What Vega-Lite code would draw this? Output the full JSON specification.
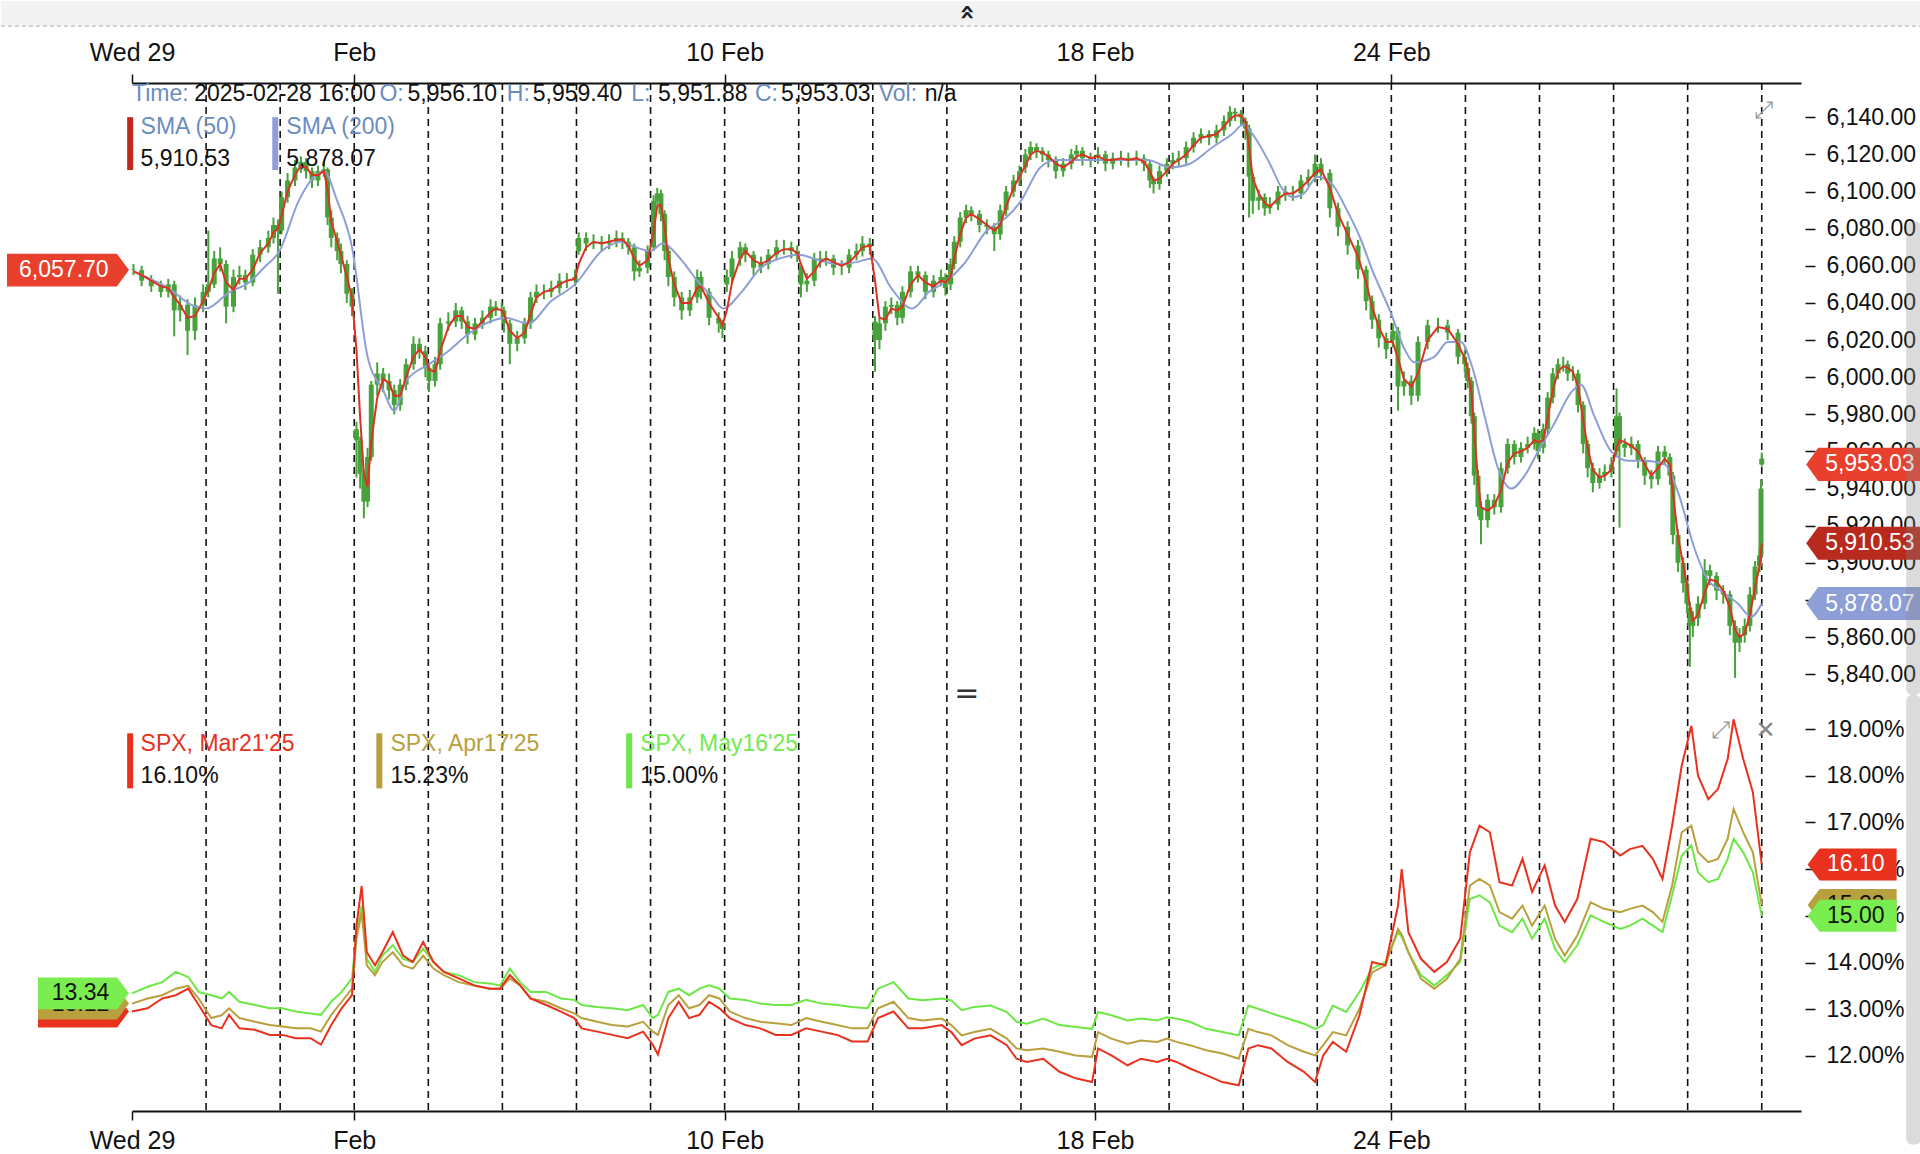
{
"$schema": "https://vega.github.io/schema/vega-lite/v6.json",
"padding": 0,
"background": "white",
"spacing": 0,
"bounds": "flush",
"resolve": {"scale": {"x": "independent", "y": "independent"}, "axis": {"x": "independent", "y": "independent"}},
"config": {"view": {"stroke": null}, "font": "Liberation Sans", "text": {"font": "Liberation Sans"}},
"datasets": {
"days": [{"d":1},{"d":2},{"d":3},{"d":4},{"d":5},{"d":6},{"d":7},{"d":8},{"d":9},{"d":10},{"d":11},{"d":12},{"d":13},{"d":14},{"d":15},{"d":16},{"d":17},{"d":18},{"d":19},{"d":20},{"d":21},{"d":22}],
"px": [
{"t":0.02,"o":6058,"h":6061,"l":6055,"c":6057.7,"s50":6057},
{"t":0.13,"o":6057.7,"h":6060,"l":6049,"c":6052,"s50":6055},
{"t":0.26,"o":6052,"h":6055,"l":6046,"c":6049,"s50":6052},
{"t":0.39,"o":6049,"h":6052,"l":6043,"c":6046,"s50":6049},
{"t":0.49,"o":6046,"h":6053,"l":6043,"c":6050,"s50":6048},
{"t":0.57,"o":6050,"h":6052,"l":6022,"c":6036,"s50":6043},
{"t":0.65,"o":6036,"h":6044,"l":6030,"c":6039,"s50":6039},
{"t":0.75,"o":6039,"h":6042,"l":6012,"c":6025,"s50":6032},
{"t":0.85,"o":6025,"h":6043,"l":6020,"c":6039,"s50":6033},
{"t":0.96,"o":6039,"h":6050,"l":6035,"c":6046,"s50":6041},
{"t":1.03,"o":6046,"h":6079,"l":6043,"c":6050,"s50":6047},
{"t":1.11,"o":6050,"h":6068,"l":6048,"c":6064,"s50":6056},
{"t":1.19,"o":6064,"h":6070,"l":6057,"c":6061,"s50":6061},
{"t":1.27,"o":6061,"h":6063,"l":6029,"c":6038,"s50":6051},
{"t":1.37,"o":6038,"h":6058,"l":6035,"c":6054,"s50":6047},
{"t":1.45,"o":6054,"h":6060,"l":6050,"c":6055,"s50":6053},
{"t":1.53,"o":6055,"h":6058,"l":6047,"c":6051,"s50":6053},
{"t":1.63,"o":6051,"h":6069,"l":6049,"c":6066,"s50":6058},
{"t":1.73,"o":6066,"h":6074,"l":6062,"c":6070,"s50":6067},
{"t":1.84,"o":6070,"h":6079,"l":6067,"c":6075,"s50":6072},
{"t":1.91,"o":6075,"h":6086,"l":6072,"c":6082,"s50":6078},
{"t":1.97,"o":6082,"h":6085,"l":6045,"c":6079,"s50":6080},
{"t":2.02,"o":6079,"h":6100,"l":6077,"c":6097,"s50":6087},
{"t":2.10,"o":6097,"h":6110,"l":6094,"c":6106,"s50":6100},
{"t":2.20,"o":6106,"h":6117,"l":6103,"c":6113,"s50":6109},
{"t":2.28,"o":6113,"h":6119,"l":6110,"c":6116,"s50":6114},
{"t":2.35,"o":6116,"h":6118,"l":6107,"c":6111,"s50":6113},
{"t":2.43,"o":6111,"h":6113,"l":6102,"c":6106,"s50":6109},
{"t":2.51,"o":6106,"h":6114,"l":6103,"c":6111,"s50":6109},
{"t":2.59,"o":6111,"h":6116,"l":6108,"c":6112,"s50":6111},
{"t":2.64,"o":6112,"h":6113,"l":6082,"c":6086,"s50":6101},
{"t":2.69,"o":6086,"h":6090,"l":6070,"c":6075,"s50":6084},
{"t":2.77,"o":6075,"h":6078,"l":6063,"c":6068,"s50":6073},
{"t":2.82,"o":6068,"h":6072,"l":6056,"c":6061,"s50":6066},
{"t":2.90,"o":6061,"h":6063,"l":6040,"c":6045,"s50":6054},
{"t":2.97,"o":6045,"h":6048,"l":6033,"c":6038,"s50":6043},
{"t":3.03,"o":5972,"h":5976,"l":5946,"c":5966,"s50":6015},
{"t":3.08,"o":5966,"h":5968,"l":5940,"c":5948,"s50":5978},
{"t":3.13,"o":5948,"h":5950,"l":5924,"c":5933,"s50":5948},
{"t":3.18,"o":5933,"h":5962,"l":5930,"c":5957,"s50":5941},
{"t":3.23,"o":5957,"h":5998,"l":5955,"c":5996,"s50":5965},
{"t":3.31,"o":5996,"h":6008,"l":5990,"c":6002,"s50":5989},
{"t":3.39,"o":6002,"h":6005,"l":5992,"c":5998,"s50":5999},
{"t":3.47,"o":5998,"h":6002,"l":5988,"c":5993,"s50":5997},
{"t":3.54,"o":5993,"h":5996,"l":5980,"c":5985,"s50":5990},
{"t":3.62,"o":5985,"h":5999,"l":5982,"c":5996,"s50":5990},
{"t":3.70,"o":5996,"h":6010,"l":5993,"c":6007,"s50":6000},
{"t":3.80,"o":6007,"h":6022,"l":6004,"c":6018,"s50":6011},
{"t":3.88,"o":6018,"h":6021,"l":6010,"c":6014,"s50":6015},
{"t":3.96,"o":6014,"h":6017,"l":6000,"c":6005,"s50":6011},
{"t":4.01,"o":6005,"h":6008,"l":5992,"c":5998,"s50":6004},
{"t":4.09,"o":5998,"h":6011,"l":5995,"c":6007,"s50":6003},
{"t":4.16,"o":6007,"h":6032,"l":6004,"c":6029,"s50":6014},
{"t":4.27,"o":6029,"h":6035,"l":6025,"c":6030,"s50":6027},
{"t":4.37,"o":6030,"h":6040,"l":6027,"c":6036,"s50":6033},
{"t":4.45,"o":6036,"h":6038,"l":6026,"c":6030,"s50":6033},
{"t":4.53,"o":6030,"h":6033,"l":6018,"c":6023,"s50":6027},
{"t":4.63,"o":6023,"h":6032,"l":6020,"c":6029,"s50":6026},
{"t":4.73,"o":6029,"h":6036,"l":6026,"c":6032,"s50":6030},
{"t":4.84,"o":6032,"h":6042,"l":6029,"c":6038,"s50":6035},
{"t":4.91,"o":6038,"h":6041,"l":6033,"c":6036,"s50":6037},
{"t":4.99,"o":6036,"h":6040,"l":6032,"c":6036,"s50":6036},
{"t":5.02,"o":6036,"h":6038,"l":6024,"c":6029,"s50":6034},
{"t":5.10,"o":6029,"h":6031,"l":6007,"c":6018,"s50":6025},
{"t":5.20,"o":6018,"h":6025,"l":6014,"c":6021,"s50":6021},
{"t":5.30,"o":6021,"h":6032,"l":6018,"c":6029,"s50":6024},
{"t":5.38,"o":6029,"h":6046,"l":6026,"c":6043,"s50":6034},
{"t":5.46,"o":6043,"h":6050,"l":6040,"c":6046,"s50":6043},
{"t":5.56,"o":6046,"h":6050,"l":6042,"c":6046,"s50":6046},
{"t":5.66,"o":6046,"h":6052,"l":6043,"c":6048,"s50":6047},
{"t":5.77,"o":6048,"h":6056,"l":6045,"c":6052,"s50":6050},
{"t":5.87,"o":6052,"h":6056,"l":6048,"c":6052,"s50":6052},
{"t":5.98,"o":6052,"h":6058,"l":6049,"c":6054,"s50":6053},
{"t":6.03,"o":6068,"h":6078,"l":6066,"c":6075,"s50":6061},
{"t":6.13,"o":6075,"h":6078,"l":6068,"c":6072,"s50":6070},
{"t":6.23,"o":6072,"h":6077,"l":6069,"c":6073,"s50":6073},
{"t":6.34,"o":6073,"h":6076,"l":6068,"c":6072,"s50":6072},
{"t":6.44,"o":6072,"h":6077,"l":6069,"c":6073,"s50":6073},
{"t":6.54,"o":6073,"h":6079,"l":6070,"c":6075,"s50":6074},
{"t":6.62,"o":6075,"h":6078,"l":6069,"c":6073,"s50":6074},
{"t":6.70,"o":6073,"h":6075,"l":6066,"c":6070,"s50":6071},
{"t":6.78,"o":6070,"h":6072,"l":6052,"c":6057,"s50":6064},
{"t":6.85,"o":6057,"h":6063,"l":6054,"c":6059,"s50":6060},
{"t":6.96,"o":6059,"h":6071,"l":6056,"c":6068,"s50":6063},
{"t":7.04,"o":6070,"h":6098,"l":6068,"c":6095,"s50":6078},
{"t":7.09,"o":6095,"h":6102,"l":6092,"c":6099,"s50":6092},
{"t":7.14,"o":6099,"h":6101,"l":6084,"c":6088,"s50":6093},
{"t":7.19,"o":6088,"h":6090,"l":6063,"c":6068,"s50":6081},
{"t":7.24,"o":6068,"h":6070,"l":6049,"c":6054,"s50":6064},
{"t":7.32,"o":6054,"h":6057,"l":6038,"c":6043,"s50":6050},
{"t":7.42,"o":6043,"h":6046,"l":6031,"c":6036,"s50":6040},
{"t":7.53,"o":6036,"h":6047,"l":6033,"c":6043,"s50":6040},
{"t":7.63,"o":6043,"h":6058,"l":6040,"c":6054,"s50":6048},
{"t":7.68,"o":6054,"h":6057,"l":6042,"c":6046,"s50":6049},
{"t":7.79,"o":6046,"h":6048,"l":6028,"c":6032,"s50":6040},
{"t":7.92,"o":6032,"h":6035,"l":6024,"c":6029,"s50":6032},
{"t":7.97,"o":6029,"h":6031,"l":6021,"c":6026,"s50":6028},
{"t":8.03,"o":6050,"h":6058,"l":6046,"c":6054,"s50":6036},
{"t":8.10,"o":6054,"h":6068,"l":6051,"c":6064,"s50":6051},
{"t":8.21,"o":6064,"h":6073,"l":6060,"c":6070,"s50":6064},
{"t":8.28,"o":6070,"h":6072,"l":6062,"c":6066,"s50":6068},
{"t":8.39,"o":6066,"h":6068,"l":6055,"c":6059,"s50":6063},
{"t":8.49,"o":6059,"h":6065,"l":6056,"c":6061,"s50":6061},
{"t":8.59,"o":6061,"h":6069,"l":6058,"c":6066,"s50":6063},
{"t":8.70,"o":6066,"h":6074,"l":6063,"c":6070,"s50":6067},
{"t":8.80,"o":6070,"h":6074,"l":6066,"c":6070,"s50":6069},
{"t":8.90,"o":6070,"h":6073,"l":6064,"c":6068,"s50":6069},
{"t":8.98,"o":6068,"h":6071,"l":6062,"c":6066,"s50":6067},
{"t":9.03,"o":6058,"h":6060,"l":6043,"c":6050,"s50":6061},
{"t":9.11,"o":6050,"h":6056,"l":6046,"c":6052,"s50":6053},
{"t":9.21,"o":6052,"h":6067,"l":6049,"c":6064,"s50":6057},
{"t":9.29,"o":6064,"h":6068,"l":6059,"c":6063,"s50":6062},
{"t":9.37,"o":6063,"h":6068,"l":6060,"c":6064,"s50":6064},
{"t":9.47,"o":6064,"h":6066,"l":6055,"c":6059,"s50":6062},
{"t":9.58,"o":6059,"h":6063,"l":6055,"c":6059,"s50":6060},
{"t":9.68,"o":6059,"h":6069,"l":6056,"c":6066,"s50":6062},
{"t":9.78,"o":6066,"h":6072,"l":6063,"c":6068,"s50":6066},
{"t":9.86,"o":6068,"h":6076,"l":6065,"c":6072,"s50":6070},
{"t":9.96,"o":6072,"h":6075,"l":6066,"c":6070,"s50":6071},
{"t":10.03,"o":6030,"h":6033,"l":6003,"c":6020,"s50":6052},
{"t":10.09,"o":6020,"h":6032,"l":6015,"c":6029,"s50":6032},
{"t":10.17,"o":6029,"h":6041,"l":6025,"c":6038,"s50":6031},
{"t":10.25,"o":6038,"h":6043,"l":6034,"c":6039,"s50":6037},
{"t":10.33,"o":6039,"h":6041,"l":6028,"c":6032,"s50":6036},
{"t":10.40,"o":6032,"h":6049,"l":6029,"c":6046,"s50":6038},
{"t":10.51,"o":6046,"h":6060,"l":6043,"c":6057,"s50":6050},
{"t":10.61,"o":6057,"h":6060,"l":6051,"c":6055,"s50":6055},
{"t":10.71,"o":6055,"h":6057,"l":6042,"c":6046,"s50":6051},
{"t":10.82,"o":6046,"h":6055,"l":6043,"c":6052,"s50":6049},
{"t":10.92,"o":6052,"h":6058,"l":6049,"c":6054,"s50":6052},
{"t":10.98,"o":6054,"h":6056,"l":6044,"c":6048,"s50":6051},
{"t":11.05,"o":6050,"h":6064,"l":6047,"c":6061,"s50":6054},
{"t":11.10,"o":6061,"h":6076,"l":6058,"c":6073,"s50":6064},
{"t":11.18,"o":6073,"h":6089,"l":6070,"c":6086,"s50":6077},
{"t":11.26,"o":6086,"h":6093,"l":6083,"c":6090,"s50":6086},
{"t":11.33,"o":6090,"h":6092,"l":6084,"c":6088,"s50":6088},
{"t":11.44,"o":6088,"h":6090,"l":6078,"c":6082,"s50":6085},
{"t":11.54,"o":6082,"h":6085,"l":6077,"c":6081,"s50":6082},
{"t":11.64,"o":6081,"h":6083,"l":6068,"c":6077,"s50":6079},
{"t":11.72,"o":6077,"h":6093,"l":6074,"c":6090,"s50":6082},
{"t":11.80,"o":6090,"h":6103,"l":6087,"c":6100,"s50":6092},
{"t":11.90,"o":6100,"h":6109,"l":6097,"c":6106,"s50":6102},
{"t":11.98,"o":6106,"h":6114,"l":6103,"c":6111,"s50":6108},
{"t":12.06,"o":6113,"h":6123,"l":6110,"c":6120,"s50":6114},
{"t":12.13,"o":6120,"h":6127,"l":6117,"c":6124,"s50":6120},
{"t":12.21,"o":6124,"h":6126,"l":6118,"c":6122,"s50":6122},
{"t":12.29,"o":6122,"h":6124,"l":6116,"c":6120,"s50":6121},
{"t":12.37,"o":6120,"h":6122,"l":6113,"c":6117,"s50":6119},
{"t":12.47,"o":6117,"h":6119,"l":6107,"c":6111,"s50":6115},
{"t":12.57,"o":6111,"h":6118,"l":6108,"c":6115,"s50":6113},
{"t":12.68,"o":6115,"h":6123,"l":6112,"c":6120,"s50":6116},
{"t":12.75,"o":6120,"h":6125,"l":6117,"c":6122,"s50":6119},
{"t":12.83,"o":6122,"h":6124,"l":6114,"c":6118,"s50":6120},
{"t":12.94,"o":6118,"h":6121,"l":6113,"c":6117,"s50":6118},
{"t":13.04,"o":6119,"h":6124,"l":6115,"c":6120,"s50":6119},
{"t":13.14,"o":6120,"h":6122,"l":6111,"c":6115,"s50":6117},
{"t":13.24,"o":6115,"h":6121,"l":6112,"c":6118,"s50":6117},
{"t":13.35,"o":6118,"h":6122,"l":6114,"c":6118,"s50":6118},
{"t":13.45,"o":6118,"h":6121,"l":6113,"c":6117,"s50":6117},
{"t":13.56,"o":6117,"h":6122,"l":6114,"c":6118,"s50":6118},
{"t":13.66,"o":6118,"h":6120,"l":6111,"c":6115,"s50":6116},
{"t":13.74,"o":6115,"h":6117,"l":6102,"c":6106,"s50":6111},
{"t":13.79,"o":6106,"h":6108,"l":6099,"c":6104,"s50":6106},
{"t":13.87,"o":6104,"h":6114,"l":6101,"c":6111,"s50":6107},
{"t":13.97,"o":6111,"h":6118,"l":6108,"c":6115,"s50":6111},
{"t":14.05,"o":6115,"h":6121,"l":6112,"c":6117,"s50":6115},
{"t":14.13,"o":6117,"h":6122,"l":6114,"c":6118,"s50":6117},
{"t":14.23,"o":6118,"h":6127,"l":6115,"c":6124,"s50":6120},
{"t":14.33,"o":6124,"h":6132,"l":6121,"c":6129,"s50":6125},
{"t":14.43,"o":6129,"h":6134,"l":6126,"c":6131,"s50":6129},
{"t":14.54,"o":6131,"h":6133,"l":6125,"c":6129,"s50":6130},
{"t":14.64,"o":6129,"h":6136,"l":6126,"c":6133,"s50":6131},
{"t":14.74,"o":6133,"h":6141,"l":6130,"c":6138,"s50":6135},
{"t":14.82,"o":6138,"h":6146,"l":6135,"c":6143,"s50":6139},
{"t":14.89,"o":6143,"h":6145,"l":6138,"c":6142,"s50":6141},
{"t":14.97,"o":6142,"h":6144,"l":6136,"c":6140,"s50":6141},
{"t":15.03,"o":6138,"h":6140,"l":6128,"c":6134,"s50":6138},
{"t":15.08,"o":6134,"h":6136,"l":6086,"c":6108,"s50":6124},
{"t":15.13,"o":6108,"h":6110,"l":6088,"c":6095,"s50":6107},
{"t":15.21,"o":6095,"h":6101,"l":6090,"c":6097,"s50":6099},
{"t":15.29,"o":6097,"h":6099,"l":6087,"c":6091,"s50":6094},
{"t":15.36,"o":6091,"h":6097,"l":6088,"c":6093,"s50":6092},
{"t":15.47,"o":6093,"h":6103,"l":6090,"c":6100,"s50":6096},
{"t":15.57,"o":6100,"h":6103,"l":6095,"c":6099,"s50":6099},
{"t":15.67,"o":6099,"h":6103,"l":6095,"c":6099,"s50":6099},
{"t":15.78,"o":6099,"h":6109,"l":6096,"c":6106,"s50":6102},
{"t":15.88,"o":6106,"h":6112,"l":6103,"c":6108,"s50":6106},
{"t":15.97,"o":6108,"h":6120,"l":6105,"c":6115,"s50":6110},
{"t":16.05,"o":6115,"h":6118,"l":6106,"c":6110,"s50":6112},
{"t":16.17,"o":6110,"h":6112,"l":6086,"c":6091,"s50":6102},
{"t":16.28,"o":6091,"h":6094,"l":6076,"c":6081,"s50":6088},
{"t":16.41,"o":6081,"h":6084,"l":6066,"c":6071,"s50":6077},
{"t":16.55,"o":6071,"h":6074,"l":6053,"c":6058,"s50":6065},
{"t":16.66,"o":6058,"h":6060,"l":6036,"c":6041,"s50":6051},
{"t":16.74,"o":6041,"h":6044,"l":6026,"c":6031,"s50":6038},
{"t":16.83,"o":6031,"h":6034,"l":6016,"c":6021,"s50":6027},
{"t":16.93,"o":6021,"h":6024,"l":6010,"c":6015,"s50":6019},
{"t":17.02,"o":6020,"h":6029,"l":6016,"c":6025,"s50":6019},
{"t":17.09,"o":6025,"h":6027,"l":5982,"c":5995,"s50":6010},
{"t":17.17,"o":5995,"h":6003,"l":5990,"c":5998,"s50":5999},
{"t":17.27,"o":5998,"h":6001,"l":5985,"c":5990,"s50":5995},
{"t":17.36,"o":5990,"h":6022,"l":5987,"c":6019,"s50":6002},
{"t":17.49,"o":6019,"h":6031,"l":6015,"c":6028,"s50":6020},
{"t":17.63,"o":6028,"h":6032,"l":6024,"c":6028,"s50":6027},
{"t":17.76,"o":6028,"h":6031,"l":6020,"c":6024,"s50":6026},
{"t":17.90,"o":6024,"h":6026,"l":6007,"c":6011,"s50":6018},
{"t":17.99,"o":6011,"h":6014,"l":6003,"c":6007,"s50":6010},
{"t":18.03,"o":6005,"h":6008,"l":5994,"c":5998,"s50":6004},
{"t":18.08,"o":5998,"h":6000,"l":5975,"c":5979,"s50":5992},
{"t":18.12,"o":5979,"h":5981,"l":5942,"c":5947,"s50":5970},
{"t":18.17,"o":5947,"h":5950,"l":5925,"c":5930,"s50":5945},
{"t":18.21,"o":5930,"h":5933,"l":5910,"c":5923,"s50":5930},
{"t":18.30,"o":5923,"h":5937,"l":5919,"c":5934,"s50":5928},
{"t":18.39,"o":5934,"h":5937,"l":5926,"c":5930,"s50":5931},
{"t":18.48,"o":5930,"h":5954,"l":5927,"c":5951,"s50":5939},
{"t":18.57,"o":5951,"h":5967,"l":5948,"c":5964,"s50":5954},
{"t":18.66,"o":5964,"h":5966,"l":5953,"c":5957,"s50":5959},
{"t":18.75,"o":5957,"h":5965,"l":5954,"c":5962,"s50":5960},
{"t":18.84,"o":5962,"h":5968,"l":5959,"c":5964,"s50":5962},
{"t":18.93,"o":5964,"h":5973,"l":5961,"c":5970,"s50":5966},
{"t":18.98,"o":5970,"h":5972,"l":5956,"c":5960,"s50":5965},
{"t":19.05,"o":5962,"h":5975,"l":5959,"c":5972,"s50":5966},
{"t":19.11,"o":5972,"h":5992,"l":5969,"c":5989,"s50":5978},
{"t":19.18,"o":5989,"h":6005,"l":5986,"c":6002,"s50":5993},
{"t":19.25,"o":6002,"h":6010,"l":5999,"c":6007,"s50":6003},
{"t":19.32,"o":6007,"h":6011,"l":6003,"c":6007,"s50":6006},
{"t":19.38,"o":6007,"h":6009,"l":5998,"c":6002,"s50":6005},
{"t":19.45,"o":6002,"h":6006,"l":5998,"c":6002,"s50":6003},
{"t":19.52,"o":6002,"h":6004,"l":5981,"c":5985,"s50":5995},
{"t":19.59,"o":5985,"h":5987,"l":5959,"c":5964,"s50":5977},
{"t":19.65,"o":5964,"h":5966,"l":5946,"c":5951,"s50":5962},
{"t":19.72,"o":5951,"h":5954,"l":5938,"c":5943,"s50":5950},
{"t":19.81,"o":5943,"h":5951,"l":5940,"c":5947,"s50":5946},
{"t":19.88,"o":5947,"h":5953,"l":5944,"c":5949,"s50":5947},
{"t":19.97,"o":5949,"h":5957,"l":5946,"c":5953,"s50":5950},
{"t":20.04,"o":5960,"h":5994,"l":5957,"c":5979,"s50":5962},
{"t":20.08,"o":5979,"h":5981,"l":5919,"c":5964,"s50":5966},
{"t":20.15,"o":5964,"h":5967,"l":5957,"c":5962,"s50":5965},
{"t":20.24,"o":5962,"h":5968,"l":5958,"c":5964,"s50":5963},
{"t":20.33,"o":5964,"h":5966,"l":5951,"c":5955,"s50":5960},
{"t":20.42,"o":5955,"h":5957,"l":5942,"c":5947,"s50":5953},
{"t":20.51,"o":5947,"h":5950,"l":5940,"c":5945,"s50":5947},
{"t":20.60,"o":5945,"h":5963,"l":5942,"c":5960,"s50":5951},
{"t":20.69,"o":5960,"h":5963,"l":5953,"c":5957,"s50":5956},
{"t":20.76,"o":5957,"h":5959,"l":5942,"c":5947,"s50":5953},
{"t":20.80,"o":5947,"h":5949,"l":5910,"c":5915,"s50":5938},
{"t":20.87,"o":5915,"h":5918,"l":5895,"c":5900,"s50":5914},
{"t":20.94,"o":5900,"h":5903,"l":5884,"c":5889,"s50":5899},
{"t":20.99,"o":5889,"h":5891,"l":5873,"c":5878,"s50":5888},
{"t":21.03,"o":5876,"h":5879,"l":5844,"c":5866,"s50":5876},
{"t":21.07,"o":5866,"h":5874,"l":5860,"c":5870,"s50":5869},
{"t":21.14,"o":5870,"h":5882,"l":5866,"c":5878,"s50":5872},
{"t":21.23,"o":5878,"h":5902,"l":5875,"c":5896,"s50":5884},
{"t":21.30,"o":5896,"h":5899,"l":5888,"c":5893,"s50":5891},
{"t":21.39,"o":5893,"h":5895,"l":5880,"c":5885,"s50":5890},
{"t":21.48,"o":5885,"h":5888,"l":5878,"c":5883,"s50":5885},
{"t":21.57,"o":5883,"h":5885,"l":5861,"c":5866,"s50":5876},
{"t":21.64,"o":5866,"h":5869,"l":5838,"c":5857,"s50":5864},
{"t":21.70,"o":5857,"h":5865,"l":5852,"c":5861,"s50":5860},
{"t":21.77,"o":5861,"h":5870,"l":5857,"c":5866,"s50":5862},
{"t":21.84,"o":5866,"h":5887,"l":5863,"c":5883,"s50":5872},
{"t":21.91,"o":5883,"h":5901,"l":5880,"c":5898,"s50":5887},
{"t":21.97,"o":5898,"h":5908,"l":5895,"c":5904,"s50":5898},
{"t":21.99,"o":5904,"h":5945,"l":5902,"c":5940,"s50":5906},
{"t":22.00,"o":5956.1,"h":5959.4,"l":5951.88,"c":5953.03,"s50":5910.53}
],
"sma200": [
{"t":0.02,"v":6057},{"t":0.25,"v":6053},{"t":0.49,"v":6048},{"t":0.80,"v":6039},{"t":1.00,"v":6037},{"t":1.32,"v":6046},{"t":1.58,"v":6051},{"t":1.78,"v":6059},{"t":1.99,"v":6068},{"t":2.25,"v":6095},{"t":2.46,"v":6108},{"t":2.59,"v":6111},{"t":2.77,"v":6095},{"t":2.97,"v":6070},{"t":3.18,"v":6011},{"t":3.39,"v":5993},{"t":3.54,"v":5982},{"t":3.70,"v":5998},{"t":4.01,"v":6007},{"t":4.27,"v":6014},{"t":4.53,"v":6023},{"t":4.84,"v":6030},{"t":5.04,"v":6032},{"t":5.35,"v":6029},{"t":5.66,"v":6041},{"t":5.98,"v":6050},{"t":6.34,"v":6068},{"t":6.60,"v":6073},{"t":6.80,"v":6070},{"t":7.00,"v":6068},{"t":7.16,"v":6072},{"t":7.42,"v":6063},{"t":7.63,"v":6052},{"t":7.84,"v":6043},{"t":7.98,"v":6037},{"t":8.23,"v":6046},{"t":8.49,"v":6059},{"t":8.75,"v":6064},{"t":9.00,"v":6066},{"t":9.27,"v":6063},{"t":9.52,"v":6061},{"t":9.78,"v":6062},{"t":9.99,"v":6064},{"t":10.25,"v":6048},{"t":10.53,"v":6037},{"t":10.76,"v":6046},{"t":11.00,"v":6052},{"t":11.23,"v":6061},{"t":11.54,"v":6079},{"t":11.80,"v":6086},{"t":12.00,"v":6095},{"t":12.26,"v":6113},{"t":12.47,"v":6117},{"t":12.88,"v":6117},{"t":13.40,"v":6117},{"t":13.71,"v":6117},{"t":14.02,"v":6113},{"t":14.28,"v":6115},{"t":14.59,"v":6124},{"t":14.85,"v":6131},{"t":15.00,"v":6136},{"t":15.16,"v":6129},{"t":15.36,"v":6115},{"t":15.52,"v":6102},{"t":15.67,"v":6097},{"t":15.82,"v":6099},{"t":16.00,"v":6108},{"t":16.20,"v":6104},{"t":16.40,"v":6090},{"t":16.58,"v":6075},{"t":16.74,"v":6058},{"t":17.00,"v":6034},{"t":17.18,"v":6015},{"t":17.31,"v":6008},{"t":17.58,"v":6011},{"t":17.76,"v":6019},{"t":17.94,"v":6019},{"t":18.08,"v":6007},{"t":18.26,"v":5979},{"t":18.44,"v":5951},{"t":18.62,"v":5940},{"t":18.80,"v":5947},{"t":18.98,"v":5960},{"t":19.20,"v":5975},{"t":19.43,"v":5992},{"t":19.56,"v":5996},{"t":19.74,"v":5979},{"t":19.97,"v":5960},{"t":20.20,"v":5955},{"t":20.42,"v":5955},{"t":20.69,"v":5953},{"t":20.87,"v":5938},{"t":21.09,"v":5908},{"t":21.27,"v":5891},{"t":21.45,"v":5885},{"t":21.68,"v":5878},{"t":21.86,"v":5871},{"t":22.00,"v":5878.07}
],
"iv": [
{"t":0.00,"mar":12.95,"apr":13.12,"may":13.34},
{"t":0.21,"mar":13.02,"apr":13.23,"may":13.48},
{"t":0.41,"mar":13.23,"apr":13.30,"may":13.58},
{"t":0.59,"mar":13.30,"apr":13.44,"may":13.80},
{"t":0.76,"mar":13.44,"apr":13.50,"may":13.69},
{"t":0.90,"mar":13.09,"apr":13.23,"may":13.37},
{"t":1.07,"mar":12.66,"apr":12.81,"may":13.30},
{"t":1.21,"mar":12.59,"apr":12.87,"may":13.23},
{"t":1.31,"mar":12.88,"apr":13.02,"may":13.37},
{"t":1.45,"mar":12.59,"apr":12.81,"may":13.16},
{"t":1.66,"mar":12.56,"apr":12.73,"may":13.09},
{"t":1.86,"mar":12.45,"apr":12.66,"may":13.02},
{"t":2.03,"mar":12.45,"apr":12.63,"may":13.02},
{"t":2.21,"mar":12.38,"apr":12.59,"may":12.95},
{"t":2.41,"mar":12.38,"apr":12.59,"may":12.91},
{"t":2.55,"mar":12.24,"apr":12.52,"may":12.88},
{"t":2.69,"mar":12.66,"apr":12.88,"may":13.16},
{"t":2.83,"mar":13.02,"apr":13.16,"may":13.37},
{"t":2.97,"mar":13.30,"apr":13.44,"may":13.66},
{"t":3.03,"mar":14.79,"apr":14.51,"may":14.65},
{"t":3.10,"mar":15.64,"apr":15.07,"may":15.22},
{"t":3.17,"mar":14.22,"apr":13.94,"may":14.08},
{"t":3.28,"mar":13.94,"apr":13.73,"may":13.80},
{"t":3.38,"mar":14.22,"apr":14.01,"may":14.15},
{"t":3.52,"mar":14.65,"apr":14.22,"may":14.37},
{"t":3.66,"mar":14.15,"apr":13.94,"may":14.08},
{"t":3.79,"mar":14.01,"apr":13.87,"may":14.01},
{"t":3.93,"mar":14.44,"apr":14.15,"may":14.30},
{"t":4.07,"mar":14.01,"apr":13.87,"may":14.01},
{"t":4.21,"mar":13.80,"apr":13.73,"may":13.80},
{"t":4.41,"mar":13.66,"apr":13.58,"may":13.73},
{"t":4.62,"mar":13.51,"apr":13.51,"may":13.58},
{"t":4.83,"mar":13.44,"apr":13.44,"may":13.55},
{"t":4.97,"mar":13.44,"apr":13.44,"may":13.51},
{"t":5.10,"mar":13.73,"apr":13.66,"may":13.87},
{"t":5.24,"mar":13.51,"apr":13.51,"may":13.58},
{"t":5.38,"mar":13.23,"apr":13.23,"may":13.37},
{"t":5.59,"mar":13.09,"apr":13.16,"may":13.37},
{"t":5.79,"mar":12.95,"apr":13.02,"may":13.23},
{"t":5.97,"mar":12.81,"apr":12.91,"may":13.20},
{"t":6.07,"mar":12.59,"apr":12.81,"may":13.09},
{"t":6.28,"mar":12.52,"apr":12.73,"may":13.05},
{"t":6.48,"mar":12.45,"apr":12.66,"may":13.02},
{"t":6.69,"mar":12.38,"apr":12.63,"may":12.98},
{"t":6.90,"mar":12.52,"apr":12.73,"may":13.09},
{"t":7.03,"mar":12.24,"apr":12.52,"may":12.81},
{"t":7.10,"mar":12.03,"apr":12.45,"may":12.88},
{"t":7.24,"mar":12.81,"apr":13.09,"may":13.37},
{"t":7.38,"mar":13.16,"apr":13.30,"may":13.44},
{"t":7.52,"mar":12.81,"apr":13.02,"may":13.30},
{"t":7.66,"mar":12.88,"apr":13.09,"may":13.44},
{"t":7.79,"mar":13.16,"apr":13.30,"may":13.51},
{"t":7.93,"mar":13.02,"apr":13.23,"may":13.44},
{"t":8.07,"mar":12.81,"apr":12.95,"may":13.23},
{"t":8.28,"mar":12.66,"apr":12.81,"may":13.20},
{"t":8.48,"mar":12.59,"apr":12.73,"may":13.12},
{"t":8.69,"mar":12.45,"apr":12.70,"may":13.09},
{"t":8.90,"mar":12.45,"apr":12.66,"may":13.09},
{"t":9.10,"mar":12.59,"apr":12.81,"may":13.20},
{"t":9.31,"mar":12.52,"apr":12.73,"may":13.12},
{"t":9.52,"mar":12.45,"apr":12.66,"may":13.09},
{"t":9.72,"mar":12.31,"apr":12.59,"may":13.05},
{"t":9.93,"mar":12.31,"apr":12.59,"may":13.02},
{"t":10.07,"mar":12.81,"apr":13.02,"may":13.44},
{"t":10.28,"mar":12.95,"apr":13.16,"may":13.58},
{"t":10.48,"mar":12.59,"apr":12.81,"may":13.23},
{"t":10.67,"mar":12.59,"apr":12.76,"may":13.19},
{"t":10.93,"mar":12.66,"apr":12.80,"may":13.23},
{"t":11.06,"mar":12.51,"apr":12.66,"may":13.19},
{"t":11.20,"mar":12.23,"apr":12.44,"may":12.98},
{"t":11.37,"mar":12.37,"apr":12.51,"may":13.05},
{"t":11.59,"mar":12.44,"apr":12.58,"may":13.08},
{"t":11.81,"mar":12.23,"apr":12.37,"may":12.94},
{"t":11.94,"mar":11.94,"apr":12.16,"may":12.73},
{"t":12.08,"mar":11.87,"apr":12.12,"may":12.69},
{"t":12.30,"mar":11.94,"apr":12.16,"may":12.80},
{"t":12.52,"mar":11.66,"apr":12.09,"may":12.66},
{"t":12.74,"mar":11.52,"apr":12.01,"may":12.62},
{"t":12.96,"mar":11.44,"apr":11.98,"may":12.58},
{"t":13.04,"mar":12.16,"apr":12.51,"may":12.94},
{"t":13.22,"mar":12.01,"apr":12.37,"may":12.87},
{"t":13.44,"mar":11.80,"apr":12.26,"may":12.76},
{"t":13.62,"mar":11.94,"apr":12.33,"may":12.80},
{"t":13.84,"mar":11.87,"apr":12.30,"may":12.76},
{"t":13.97,"mar":11.94,"apr":12.37,"may":12.83},
{"t":14.10,"mar":11.87,"apr":12.30,"may":12.80},
{"t":14.28,"mar":11.73,"apr":12.23,"may":12.73},
{"t":14.50,"mar":11.59,"apr":12.12,"may":12.58},
{"t":14.72,"mar":11.44,"apr":12.05,"may":12.51},
{"t":14.94,"mar":11.37,"apr":11.94,"may":12.44},
{"t":15.07,"mar":12.16,"apr":12.58,"may":13.08},
{"t":15.20,"mar":12.23,"apr":12.51,"may":13.01},
{"t":15.38,"mar":12.16,"apr":12.44,"may":12.91},
{"t":15.60,"mar":11.87,"apr":12.23,"may":12.80},
{"t":15.82,"mar":11.66,"apr":12.09,"may":12.69},
{"t":15.97,"mar":11.44,"apr":12.01,"may":12.58},
{"t":16.08,"mar":12.01,"apr":12.23,"may":12.66},
{"t":16.21,"mar":12.30,"apr":12.51,"may":13.08},
{"t":16.39,"mar":12.09,"apr":12.44,"may":12.94},
{"t":16.57,"mar":12.87,"apr":13.01,"may":13.37},
{"t":16.74,"mar":14.01,"apr":13.79,"may":13.87},
{"t":16.92,"mar":13.94,"apr":13.94,"may":14.01},
{"t":17.09,"mar":15.22,"apr":14.72,"may":14.65},
{"t":17.14,"mar":16.00,"apr":14.60,"may":14.55},
{"t":17.23,"mar":14.65,"apr":14.22,"may":14.22},
{"t":17.40,"mar":14.08,"apr":13.65,"may":13.73},
{"t":17.58,"mar":13.80,"apr":13.44,"may":13.51},
{"t":17.75,"mar":14.01,"apr":13.65,"may":13.73},
{"t":17.93,"mar":14.51,"apr":14.08,"may":14.01},
{"t":18.06,"mar":16.36,"apr":15.65,"may":15.36},
{"t":18.19,"mar":16.93,"apr":15.79,"may":15.44},
{"t":18.33,"mar":16.79,"apr":15.65,"may":15.29},
{"t":18.46,"mar":15.72,"apr":15.08,"may":14.79},
{"t":18.63,"mar":15.65,"apr":14.94,"may":14.65},
{"t":18.77,"mar":16.22,"apr":15.22,"may":14.94},
{"t":18.90,"mar":15.51,"apr":14.79,"may":14.51},
{"t":19.07,"mar":16.08,"apr":15.22,"may":14.94},
{"t":19.21,"mar":15.22,"apr":14.51,"may":14.29},
{"t":19.34,"mar":14.87,"apr":14.15,"may":14.01},
{"t":19.51,"mar":15.36,"apr":14.58,"may":14.37},
{"t":19.69,"mar":16.65,"apr":15.29,"may":15.01},
{"t":19.87,"mar":16.58,"apr":15.15,"may":14.87},
{"t":20.09,"mar":16.29,"apr":15.08,"may":14.72},
{"t":20.22,"mar":16.43,"apr":15.15,"may":14.79},
{"t":20.39,"mar":16.50,"apr":15.22,"may":14.94},
{"t":20.53,"mar":16.22,"apr":15.08,"may":14.79},
{"t":20.66,"mar":15.79,"apr":14.87,"may":14.65},
{"t":20.79,"mar":16.93,"apr":15.65,"may":15.44},
{"t":20.92,"mar":18.22,"apr":16.79,"may":16.29},
{"t":21.05,"mar":19.07,"apr":16.93,"may":16.51},
{"t":21.14,"mar":18.00,"apr":16.36,"may":15.93},
{"t":21.28,"mar":17.50,"apr":16.15,"may":15.72},
{"t":21.41,"mar":17.72,"apr":16.22,"may":15.79},
{"t":21.54,"mar":18.36,"apr":16.65,"may":16.22},
{"t":21.62,"mar":19.21,"apr":17.29,"may":16.65},
{"t":21.75,"mar":18.36,"apr":16.79,"may":16.36},
{"t":21.88,"mar":17.65,"apr":16.36,"may":15.93},
{"t":22.00,"mar":16.10,"apr":15.23,"may":15.00}
]
},
"vconcat": [
{
"width": 1669, "height": 612,
"data": {"values": [{}]},
"layer": [
{"data": {"name": "days"}, "mark": {"type": "rule", "color": "#111", "strokeWidth": 1.6, "strokeDash": [7, 5]},
 "encoding": {"x": {"field": "d", "type": "quantitative", "title": null,
   "scale": {"domain": [0, 22.53], "nice": false, "zero": false, "padding": 0},
   "axis": {"orient": "top", "title": null, "values": [0, 3, 8, 13, 17],
     "labelExpr": "datum.value == 0 ? 'Wed 29' : datum.value == 3 ? 'Feb' : datum.value == 8 ? '10 Feb' : datum.value == 13 ? '18 Feb' : datum.value == 17 ? '24 Feb' : ''",
     "domainColor": "#111", "domainWidth": 2, "tickColor": "#111", "tickSize": 9, "tickWidth": 1.5,
     "labelFontSize": 25, "labelColor": "#111", "labelPadding": 9, "labelFont": "Liberation Sans", "labelFlush": false, "labelOverlap": false, "grid": false}}}},
{"mark": {"type": "rect", "color": "#f3f3f3"},
 "encoding": {"x": {"datum": -1.77}, "x2": {"datum": 24.15}, "y": {"datum": 6189.2}, "y2": {"datum": 6202.7}}},
{"mark": {"type": "rule", "color": "#c4c4c4", "strokeWidth": 1.5, "strokeDash": [4, 3]},
 "encoding": {"x": {"datum": -1.77}, "x2": {"datum": 24.15}, "y": {"datum": 6189.2}}},
{"mark": {"type": "text", "text": "»", "angle": 270, "fontSize": 26, "fontWeight": "bold", "color": "#222", "align": "center", "baseline": "middle", "font": "DejaVu Sans"},
 "encoding": {"x": {"datum": 11.27}, "y": {"datum": 6196.5}}},
{"data": {"name": "px"}, "mark": {"type": "rule", "color": "#48a23c", "strokeWidth": 2},
 "encoding": {"x": {"field": "t", "type": "quantitative", "title": null},
   "y": {"field": "l", "type": "quantitative", "title": null,
     "scale": {"domain": [5828.8, 6158.5], "nice": false, "zero": false},
     "axis": {"orient": "right", "title": null, "values": [5840, 5860, 5880, 5900, 5920, 5940, 5960, 5980, 6000, 6020, 6040, 6060, 6080, 6100, 6120, 6140],
       "format": ",.2f", "domain": false, "tickColor": "#111", "tickSize": 10, "tickWidth": 1.5, "offset": 4,
       "labelFontSize": 23, "labelColor": "#111", "labelPadding": 11, "labelFont": "Liberation Sans", "labelOverlap": false, "labelFlush": false, "grid": false}},
   "y2": {"field": "h"}}},
{"data": {"name": "px"}, "mark": {"type": "bar", "color": "#48a23c", "width": 5},
 "encoding": {"x": {"field": "t", "type": "quantitative", "title": null}, "y": {"field": "o", "type": "quantitative", "title": null}, "y2": {"field": "c"}}},
{"data": {"name": "sma200"}, "mark": {"type": "line", "color": "#8e9ed6", "strokeWidth": 2, "interpolate": "monotone"},
 "encoding": {"x": {"field": "t", "type": "quantitative", "title": null}, "y": {"field": "v", "type": "quantitative", "title": null}}},
{"data": {"name": "px"}, "mark": {"type": "line", "color": "#dc3220", "strokeWidth": 2},
 "encoding": {"x": {"field": "t", "type": "quantitative", "title": null}, "y": {"field": "s50", "type": "quantitative", "title": null}}},
{"mark": {"type": "text", "text": "Time:", "color": "#6b8cc0", "fontSize": 23, "align": "left", "baseline": "middle"}, "encoding": {"x": {"datum": 0.0}, "y": {"datum": 6152.4}}},
{"mark": {"type": "text", "text": "2025-02-28 16:00", "color": "#111", "fontSize": 23, "align": "left", "baseline": "middle"}, "encoding": {"x": {"datum": 0.84}, "y": {"datum": 6152.4}}},
{"mark": {"type": "text", "text": "O:", "color": "#6b8cc0", "fontSize": 23, "align": "left", "baseline": "middle"}, "encoding": {"x": {"datum": 3.34}, "y": {"datum": 6152.4}}},
{"mark": {"type": "text", "text": "5,956.10", "color": "#111", "fontSize": 23, "align": "left", "baseline": "middle"}, "encoding": {"x": {"datum": 3.72}, "y": {"datum": 6152.4}}},
{"mark": {"type": "text", "text": "H:", "color": "#6b8cc0", "fontSize": 23, "align": "left", "baseline": "middle"}, "encoding": {"x": {"datum": 5.06}, "y": {"datum": 6152.4}}},
{"mark": {"type": "text", "text": "5,959.40", "color": "#111", "fontSize": 23, "align": "left", "baseline": "middle"}, "encoding": {"x": {"datum": 5.41}, "y": {"datum": 6152.4}}},
{"mark": {"type": "text", "text": "L:", "color": "#6b8cc0", "fontSize": 23, "align": "left", "baseline": "middle"}, "encoding": {"x": {"datum": 6.74}, "y": {"datum": 6152.4}}},
{"mark": {"type": "text", "text": "5,951.88", "color": "#111", "fontSize": 23, "align": "left", "baseline": "middle"}, "encoding": {"x": {"datum": 7.1}, "y": {"datum": 6152.4}}},
{"mark": {"type": "text", "text": "C:", "color": "#6b8cc0", "fontSize": 23, "align": "left", "baseline": "middle"}, "encoding": {"x": {"datum": 8.41}, "y": {"datum": 6152.4}}},
{"mark": {"type": "text", "text": "5,953.03", "color": "#111", "fontSize": 23, "align": "left", "baseline": "middle"}, "encoding": {"x": {"datum": 8.76}, "y": {"datum": 6152.4}}},
{"mark": {"type": "text", "text": "Vol:", "color": "#6b8cc0", "fontSize": 23, "align": "left", "baseline": "middle"}, "encoding": {"x": {"datum": 10.08}, "y": {"datum": 6152.4}}},
{"mark": {"type": "text", "text": "n/a", "color": "#111", "fontSize": 23, "align": "left", "baseline": "middle"}, "encoding": {"x": {"datum": 10.7}, "y": {"datum": 6152.4}}},
{"mark": {"type": "rule", "color": "#c0281d", "strokeWidth": 6}, "encoding": {"x": {"datum": -0.025}, "y": {"datum": 6140.1}, "y2": {"datum": 6111.6}}},
{"mark": {"type": "rule", "color": "#8e9ed6", "strokeWidth": 6}, "encoding": {"x": {"datum": 1.934}, "y": {"datum": 6140.1}, "y2": {"datum": 6111.6}}},
{"mark": {"type": "text", "text": "SMA (50)", "color": "#6b8cc0", "fontSize": 23, "align": "left", "baseline": "middle"}, "encoding": {"x": {"datum": 0.116}, "y": {"datum": 6134.7}}},
{"mark": {"type": "text", "text": "5,910.53", "color": "#111", "fontSize": 23, "align": "left", "baseline": "middle"}, "encoding": {"x": {"datum": 0.116}, "y": {"datum": 6117.6}}},
{"mark": {"type": "text", "text": "SMA (200)", "color": "#6b8cc0", "fontSize": 23, "align": "left", "baseline": "middle"}, "encoding": {"x": {"datum": 2.083}, "y": {"datum": 6134.7}}},
{"mark": {"type": "text", "text": "5,878.07", "color": "#111", "fontSize": 23, "align": "left", "baseline": "middle"}, "encoding": {"x": {"datum": 2.083}, "y": {"datum": 6117.6}}},
{"mark": {"type": "point", "shape": "M-1,-0.27L0.8,-0.27L1,0L0.8,0.27L-1,0.27Z", "size": 14884, "filled": true, "color": "#e8402d", "opacity": 1, "strokeWidth": 0},
 "encoding": {"x": {"datum": -0.864}, "y": {"datum": 6057.7}}},
{"mark": {"type": "text", "text": "6,057.70", "color": "white", "fontSize": 23, "align": "center", "baseline": "middle"}, "encoding": {"x": {"datum": -0.92}, "y": {"datum": 6057.7}}},
{"mark": {"type": "point", "shape": "M-1,0L-0.79,-0.29L1,-0.29L1,0.29L-0.79,0.29Z", "size": 12996, "filled": true, "color": "#8e9ed6", "opacity": 1, "strokeWidth": 0},
 "encoding": {"x": {"datum": 23.37}, "y": {"datum": 5878.07}}},
{"mark": {"type": "text", "text": "5,878.07", "color": "white", "fontSize": 23, "align": "center", "baseline": "middle"}, "encoding": {"x": {"datum": 23.46}, "y": {"datum": 5878.07}}},
{"mark": {"type": "point", "shape": "M-1,0L-0.79,-0.29L1,-0.29L1,0.29L-0.79,0.29Z", "size": 12996, "filled": true, "color": "#b8291e", "opacity": 1, "strokeWidth": 0},
 "encoding": {"x": {"datum": 23.37}, "y": {"datum": 5910.53}}},
{"mark": {"type": "text", "text": "5,910.53", "color": "white", "fontSize": 23, "align": "center", "baseline": "middle"}, "encoding": {"x": {"datum": 23.46}, "y": {"datum": 5910.53}}},
{"mark": {"type": "point", "shape": "M-1,0L-0.79,-0.29L1,-0.29L1,0.29L-0.79,0.29Z", "size": 12996, "filled": true, "color": "#e8402d", "opacity": 1, "strokeWidth": 0},
 "encoding": {"x": {"datum": 23.37}, "y": {"datum": 5953.03}}},
{"mark": {"type": "text", "text": "5,953.03", "color": "white", "fontSize": 23, "align": "center", "baseline": "middle"}, "encoding": {"x": {"datum": 23.46}, "y": {"datum": 5953.03}}},
{"mark": {"type": "rect", "color": "#888", "opacity": 0.3, "cornerRadius": 6},
 "encoding": {"x": {"datum": 23.95}, "x2": {"datum": 24.15}, "y": {"datum": 6084}, "y2": {"datum": 5828.8}}},
{"mark": {"type": "text", "text": "⤢", "color": "#999", "fontSize": 24, "align": "center", "baseline": "middle", "font": "DejaVu Sans"}, "encoding": {"x": {"datum": 22.03}, "y": {"datum": 6143.4}}},
{"mark": {"type": "text", "text": "=", "color": "#333", "fontSize": 30, "align": "center", "baseline": "middle", "font": "DejaVu Sans"}, "encoding": {"x": {"datum": 11.27}, "y": {"datum": 5829.5}}}
]
},
{
"width": 1669, "height": 416,
"data": {"values": [{}]},
"layer": [
{"data": {"name": "days"}, "mark": {"type": "rule", "color": "#111", "strokeWidth": 1.6, "strokeDash": [7, 5]},
 "encoding": {"x": {"field": "d", "type": "quantitative", "title": null,
   "scale": {"domain": [0, 22.53], "nice": false, "zero": false, "padding": 0},
   "axis": {"orient": "bottom", "title": null, "values": [0, 3, 8, 13, 17],
     "labelExpr": "datum.value == 0 ? 'Wed 29' : datum.value == 3 ? 'Feb' : datum.value == 8 ? '10 Feb' : datum.value == 13 ? '18 Feb' : datum.value == 17 ? '24 Feb' : ''",
     "domainColor": "#111", "domainWidth": 2, "tickColor": "#111", "tickSize": 9, "tickWidth": 1.5,
     "labelFontSize": 25, "labelColor": "#111", "labelPadding": 8, "labelFont": "Liberation Sans", "labelFlush": false, "labelOverlap": false, "grid": false}}}},
{"data": {"name": "iv"}, "mark": {"type": "line", "color": "#6ce845", "strokeWidth": 2},
 "encoding": {"x": {"field": "t", "type": "quantitative", "title": null},
   "y": {"field": "may", "type": "quantitative", "title": null,
     "scale": {"domain": [10.82, 19.73], "nice": false, "zero": false},
     "axis": {"orient": "right", "title": null, "values": [12, 13, 14, 15, 16, 17, 18, 19],
       "labelExpr": "format(datum.value, '.2f') + '%'", "domain": false, "tickColor": "#111", "tickSize": 10, "tickWidth": 1.5, "offset": 4,
       "labelFontSize": 23, "labelColor": "#111", "labelPadding": 11, "labelFont": "Liberation Sans", "labelOverlap": false, "labelFlush": false, "grid": false}}}},
{"data": {"name": "iv"}, "mark": {"type": "line", "color": "#b9a03e", "strokeWidth": 2},
 "encoding": {"x": {"field": "t", "type": "quantitative", "title": null}, "y": {"field": "apr", "type": "quantitative", "title": null}}},
{"data": {"name": "iv"}, "mark": {"type": "line", "color": "#e8321e", "strokeWidth": 2},
 "encoding": {"x": {"field": "t", "type": "quantitative", "title": null}, "y": {"field": "mar", "type": "quantitative", "title": null}}},
{"mark": {"type": "rule", "color": "#e8321e", "strokeWidth": 6}, "encoding": {"x": {"datum": -0.025}, "y": {"datum": 18.91}, "y2": {"datum": 17.73}}},
{"mark": {"type": "rule", "color": "#b9a03e", "strokeWidth": 6}, "encoding": {"x": {"datum": 3.339}, "y": {"datum": 18.91}, "y2": {"datum": 17.73}}},
{"mark": {"type": "rule", "color": "#6ce845", "strokeWidth": 6}, "encoding": {"x": {"datum": 6.711}, "y": {"datum": 18.91}, "y2": {"datum": 17.73}}},
{"mark": {"type": "text", "text": "SPX, Mar21'25", "color": "#e8321e", "fontSize": 23, "align": "left", "baseline": "middle"}, "encoding": {"x": {"datum": 0.116}, "y": {"datum": 18.67}}},
{"mark": {"type": "text", "text": "16.10%", "color": "#111", "fontSize": 23, "align": "left", "baseline": "middle"}, "encoding": {"x": {"datum": 0.116}, "y": {"datum": 17.99}}},
{"mark": {"type": "text", "text": "SPX, Apr17'25", "color": "#b9a03e", "fontSize": 23, "align": "left", "baseline": "middle"}, "encoding": {"x": {"datum": 3.488}, "y": {"datum": 18.67}}},
{"mark": {"type": "text", "text": "15.23%", "color": "#111", "fontSize": 23, "align": "left", "baseline": "middle"}, "encoding": {"x": {"datum": 3.488}, "y": {"datum": 17.99}}},
{"mark": {"type": "text", "text": "SPX, May16'25", "color": "#74e84f", "fontSize": 23, "align": "left", "baseline": "middle"}, "encoding": {"x": {"datum": 6.86}, "y": {"datum": 18.67}}},
{"mark": {"type": "text", "text": "15.00%", "color": "#111", "fontSize": 23, "align": "left", "baseline": "middle"}, "encoding": {"x": {"datum": 6.86}, "y": {"datum": 17.99}}},
{"mark": {"type": "point", "shape": "M-1,-0.35L0.74,-0.35L1,0L0.74,0.35L-1,0.35Z", "size": 8281, "filled": true, "color": "#e8321e", "opacity": 1, "strokeWidth": 0},
 "encoding": {"x": {"datum": -0.655}, "y": {"datum": 12.95}}},
{"mark": {"type": "text", "text": "12.95", "color": "white", "fontSize": 23, "align": "center", "baseline": "middle"}, "encoding": {"x": {"datum": -0.695}, "y": {"datum": 12.95}}},
{"mark": {"type": "point", "shape": "M-1,-0.35L0.74,-0.35L1,0L0.74,0.35L-1,0.35Z", "size": 8281, "filled": true, "color": "#b9a03e", "opacity": 1, "strokeWidth": 0},
 "encoding": {"x": {"datum": -0.655}, "y": {"datum": 13.12}}},
{"mark": {"type": "text", "text": "13.12", "color": "#111", "fontSize": 23, "align": "center", "baseline": "middle"}, "encoding": {"x": {"datum": -0.695}, "y": {"datum": 13.12}}},
{"mark": {"type": "point", "shape": "M-1,-0.35L0.74,-0.35L1,0L0.74,0.35L-1,0.35Z", "size": 8281, "filled": true, "color": "#7aee50", "opacity": 1, "strokeWidth": 0},
 "encoding": {"x": {"datum": -0.655}, "y": {"datum": 13.34}}},
{"mark": {"type": "text", "text": "13.34", "color": "#111", "fontSize": 23, "align": "center", "baseline": "middle"}, "encoding": {"x": {"datum": -0.695}, "y": {"datum": 13.34}}},
{"mark": {"type": "point", "shape": "M-1,0L-0.73,-0.36L1,-0.36L1,0.36L-0.73,0.36Z", "size": 7921, "filled": true, "color": "#e8321e", "opacity": 1, "strokeWidth": 0},
 "encoding": {"x": {"datum": 23.22}, "y": {"datum": 16.1}}},
{"mark": {"type": "text", "text": "16.10", "color": "white", "fontSize": 23, "align": "center", "baseline": "middle"}, "encoding": {"x": {"datum": 23.27}, "y": {"datum": 16.1}}},
{"mark": {"type": "point", "shape": "M-1,0L-0.73,-0.36L1,-0.36L1,0.36L-0.73,0.36Z", "size": 7921, "filled": true, "color": "#b9a03e", "opacity": 1, "strokeWidth": 0},
 "encoding": {"x": {"datum": 23.22}, "y": {"datum": 15.23}}},
{"mark": {"type": "text", "text": "15.23", "color": "#111", "fontSize": 23, "align": "center", "baseline": "middle"}, "encoding": {"x": {"datum": 23.27}, "y": {"datum": 15.23}}},
{"mark": {"type": "point", "shape": "M-1,0L-0.73,-0.36L1,-0.36L1,0.36L-0.73,0.36Z", "size": 7921, "filled": true, "color": "#7aee50", "opacity": 1, "strokeWidth": 0},
 "encoding": {"x": {"datum": 23.22}, "y": {"datum": 15.0}}},
{"mark": {"type": "text", "text": "15.00", "color": "#111", "fontSize": 23, "align": "center", "baseline": "middle"}, "encoding": {"x": {"datum": 23.27}, "y": {"datum": 15.0}}},
{"mark": {"type": "rect", "color": "#888", "opacity": 0.3, "cornerRadius": 6},
 "encoding": {"x": {"datum": 23.95}, "x2": {"datum": 24.15}, "y": {"datum": 19.73}, "y2": {"datum": 10.1}}},
{"mark": {"type": "text", "text": "⤢", "color": "#999", "fontSize": 24, "align": "center", "baseline": "middle", "font": "DejaVu Sans"}, "encoding": {"x": {"datum": 21.44}, "y": {"datum": 18.96}}},
{"mark": {"type": "text", "text": "✕", "color": "#888", "fontSize": 24, "align": "center", "baseline": "middle", "font": "DejaVu Sans"}, "encoding": {"x": {"datum": 22.05}, "y": {"datum": 18.96}}}
]
}
]
}
